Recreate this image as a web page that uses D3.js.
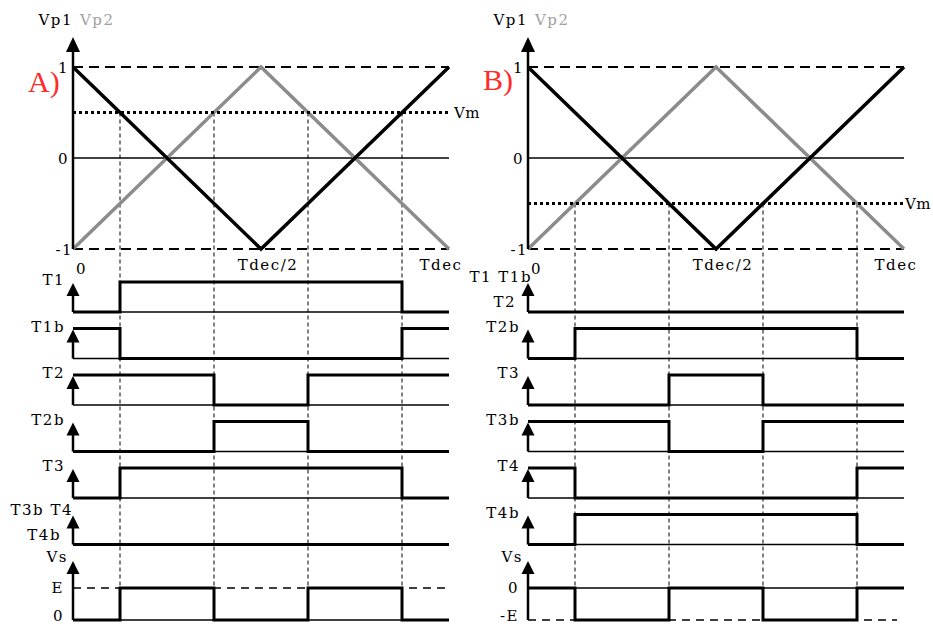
<!DOCTYPE html>
<html>
<head>
<meta charset="utf-8">
<script src="https://cdn.jsdelivr.net/npm/d3@7"></script>
<style>
  body { margin: 0; background: #fff; }
  text { font-family: "DejaVu Serif", serif; font-size: 15px; letter-spacing: 1.5px; }
  .panel { font-family: "Liberation Serif", serif; font-size: 30px; letter-spacing: 0; fill: #ff2a2a; }
</style>
</head>
<body>
<div id="chart"></div>
<script>
// carrier waveforms, time as fraction of Tdec
var vp1 = [[0, 1], [0.5, -1], [1, 1]]
var vp2 = [[0, -1], [0.5, 1], [1, -1]]
var levelTicks = [1, 0, -1]
var timeTicks = ["0", "Tdec/2", "Tdec"]

// modulating level per panel
var vmA = 0.5
var vmB = -0.5

// switching instants (where Vm meets the carriers)
var switchA = [0.125, 0.375, 0.625, 0.875]
var switchB = [0.125, 0.375, 0.625, 0.875]

// gate states, one value per interval between switching instants
var rowLabelsA = [["T1"], ["T1b"], ["T2"], ["T2b"], ["T3"], ["T3b T4", "T4b"]]
var statesA = [
  [0, 1, 1, 1, 0],
  [1, 0, 0, 0, 1],
  [1, 1, 0, 1, 1],
  [0, 0, 1, 0, 0],
  [0, 1, 1, 1, 0],
  [0, 0, 0, 0, 0]
]
var rowLabelsB = [["T1 T1b", "T2"], ["T2b"], ["T3"], ["T3b"], ["T4"], ["T4b"]]
var statesB = [
  [0, 0, 0, 0, 0],
  [0, 1, 1, 1, 0],
  [0, 0, 1, 0, 0],
  [1, 1, 0, 1, 1],
  [1, 0, 0, 0, 1],
  [0, 1, 1, 1, 0]
]

// output voltage Vs in units of E
var vsA = [0, 1, 0, 1, 0]
var vsB = [0, -1, 0, -1, 0]
var vsTicksA = ["E", "0"]
var vsTicksB = ["0", "-E"]

var width = 933
var height = 626

var svg = d3.select('#chart').append('svg')
  .attr('width', width)
  .attr('height', height)

function arrow(g, x, tip, hw, hh) {
  g.append('path')
    .attr('d', 'M' + x + ',' + tip + 'L' + (x - hw) + ',' + (tip + hh) + 'L' + (x + hw) + ',' + (tip + hh) + 'Z')
    .attr('fill', 'black')
}

function drawPanel(opt) {
  var g = svg.append('g')
  var x = d3.scaleLinear().domain([0, 1]).range([opt.x0, opt.x0 + 376])
  var y = d3.scaleLinear().domain([-1, 1]).range([249, 67])
  var ax = x(0)

  // top chart: dashed bounds at +1 / -1
  g.selectAll('.bound').data([1, -1]).enter().append('line')
    .attr('x1', ax).attr('x2', x(1))
    .attr('y1', function(d) { return y(d) }).attr('y2', function(d) { return y(d) })
    .attr('stroke', 'black').attr('stroke-width', 2).attr('stroke-dasharray', '10,6')

  // vertical dashed guides at switching instants
  g.selectAll('.guide').data(opt.switches).enter().append('line')
    .attr('x1', function(d) { return x(d) }).attr('x2', function(d) { return x(d) })
    .attr('y1', y(opt.vm)).attr('y2', 622)
    .attr('stroke', 'black').attr('stroke-width', 1).attr('stroke-dasharray', '4,3')

  // zero line
  g.append('line').attr('x1', ax).attr('x2', x(1)).attr('y1', y(0)).attr('y2', y(0))
    .attr('stroke', 'black').attr('stroke-width', 1.5)

  var line = d3.line().x(function(d) { return x(d[0]) }).y(function(d) { return y(d[1]) })
  g.append('path').datum(vp2).attr('d', line).attr('fill', 'none')
    .attr('stroke', '#8c8c8c').attr('stroke-width', 3.5)
  g.append('path').datum(vp1).attr('d', line).attr('fill', 'none')
    .attr('stroke', 'black').attr('stroke-width', 3.5)

  // Vm dotted
  g.append('line').attr('x1', ax).attr('x2', x(1)).attr('y1', y(opt.vm)).attr('y2', y(opt.vm))
    .attr('stroke', 'black').attr('stroke-width', 3).attr('stroke-dasharray', '3,3')
  g.append('text').attr('x', x(1) + opt.vmOff).attr('y', y(opt.vm) + 5)
    .style('letter-spacing', '0.5px').text('Vm')

  // y axis with arrow
  g.append('line').attr('x1', ax).attr('x2', ax).attr('y1', 50).attr('y2', y(-1))
    .attr('stroke', 'black').attr('stroke-width', 2.5)
  arrow(g, ax, 37, 7, 15)

  g.append('text').attr('x', ax).attr('y', 25).attr('text-anchor', 'end').text('Vp1')
  g.append('text').attr('x', ax + 7).attr('y', 25).attr('fill', '#a0a0a0').text('Vp2')
  g.append('text').attr('class', 'panel').attr('x', opt.x0 - 45).attr('y', opt.panelY).text(opt.panel)

  g.selectAll('.lvl').data(levelTicks).enter().append('text')
    .attr('x', function(d) { return d < 0 ? ax : ax - 4 })
    .attr('y', function(d) { return y(d) + 6 })
    .attr('text-anchor', 'end')
    .text(function(d) { return d })

  g.append('text').attr('x', ax + 3).attr('y', 274).text(timeTicks[0])
  g.append('text').attr('x', x(0.5) + 7).attr('y', 270).attr('text-anchor', 'middle').text(timeTicks[1])
  g.append('text').attr('x', x(1) - 8).attr('y', 270).attr('text-anchor', 'middle').text(timeTicks[2])

  // gate signal rows
  var rows = d3.scalePoint().domain(d3.range(opt.states.length)).range([312, 544.5])
  var bounds = [0].concat(opt.switches)

  opt.states.forEach(function(st, i) {
    var base = rows(i)
    var ys = d3.scaleLinear().domain([0, 1]).range([base, base - 30])
    g.append('line').attr('x1', ax).attr('x2', x(1)).attr('y1', base).attr('y2', base)
      .attr('stroke', 'black').attr('stroke-width', 1.5)
    var pts = bounds.map(function(t, k) { return [t, st[k]] })
    pts.push([1, st[st.length - 1]])
    var step = d3.line().curve(d3.curveStepAfter)
      .x(function(d) { return x(d[0]) }).y(function(d) { return ys(d[1]) })
    g.append('path').datum(pts).attr('d', step).attr('fill', 'none')
      .attr('stroke', 'black').attr('stroke-width', 3)
    g.append('line').attr('x1', ax).attr('x2', ax).attr('y1', base - 20).attr('y2', base)
      .attr('stroke', 'black').attr('stroke-width', 2.5)
    arrow(g, ax, base - 29, 6.5, 13)

    var labs = opt.labels[i]
    if (labs.length == 1) {
      g.append('text').attr('x', ax - 8).attr('y', base - 27).attr('text-anchor', 'end').text(labs[0])
    } else {
      g.append('text').attr('x', ax + opt.dblOff).attr('y', base - 30).attr('text-anchor', 'end').text(labs[0])
      g.append('text').attr('x', ax - 12).attr('y', base - 5).attr('text-anchor', 'end').text(labs[1])
    }
  })

  // Vs row
  var vs = d3.scaleLinear().domain(opt.vsDomain).range([620, 588])
  var zero = vs(0)
  var ext = opt.vsDomain[0] < 0 ? -1 : 1
  g.append('line').attr('x1', ax).attr('x2', x(1) - opt.dashTrim).attr('y1', vs(ext)).attr('y2', vs(ext))
    .attr('stroke', 'black').attr('stroke-width', 1.5).attr('stroke-dasharray', '8,6')
  g.append('line').attr('x1', ax).attr('x2', x(1)).attr('y1', zero).attr('y2', zero)
    .attr('stroke', 'black').attr('stroke-width', 1.5)
  var vpts = bounds.map(function(t, k) { return [t, opt.vs[k]] })
  vpts.push([1, opt.vs[opt.vs.length - 1]])
  var vline = d3.line().curve(d3.curveStepAfter)
    .x(function(d) { return x(d[0]) }).y(function(d) { return vs(d[1]) })
  g.append('path').datum(vpts).attr('d', vline).attr('fill', 'none')
    .attr('stroke', 'black').attr('stroke-width', 3)
  g.append('line').attr('x1', ax).attr('x2', ax).attr('y1', 570).attr('y2', 620)
    .attr('stroke', 'black').attr('stroke-width', 2.5)
  arrow(g, ax, 561, 6.5, 13)
  g.append('text').attr('x', ax - 5).attr('y', 562).attr('text-anchor', 'end').text('Vs')
  g.append('text').attr('x', ax - 9).attr('y', 593).attr('text-anchor', 'end').text(opt.vsTicks[0])
  g.append('text').attr('x', ax - 9).attr('y', 621).attr('text-anchor', 'end').text(opt.vsTicks[1])
}

drawPanel({
  x0: 73, panel: 'A)', panelY: 92, vm: vmA, switches: switchA, vmOff: 5,
  states: statesA, labels: rowLabelsA, dblOff: 0,
  vs: vsA, vsDomain: [0, 1], vsTicks: vsTicksA, dashTrim: 0
})
drawPanel({
  x0: 528, panel: 'B)', panelY: 90, vm: vmB, switches: switchB, vmOff: 1,
  states: statesB, labels: rowLabelsB, dblOff: 4,
  vs: vsB, vsDomain: [-1, 0], vsTicks: vsTicksB, dashTrim: 7
})
</script>
</body>
</html>
